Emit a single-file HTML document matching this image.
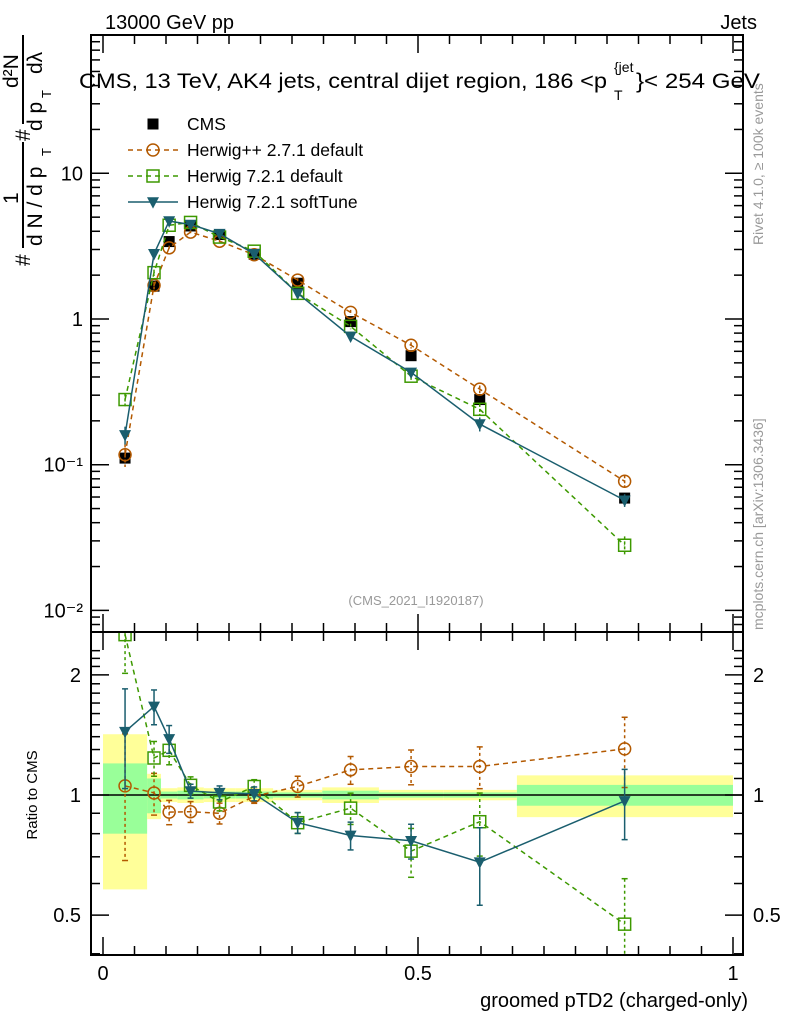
<!DOCTYPE html>
<html><head><meta charset="utf-8">
<style>
html,body{margin:0;padding:0;background:#fff;}
svg{display:block;font-family:"Liberation Sans",sans-serif;}
</style></head>
<body>
<svg id="c" width="786" height="1024" viewBox="0 0 786 1024" xmlns="http://www.w3.org/2000/svg">
<defs>
<clipPath id="cm"><rect x="91" y="35" width="652" height="597"/></clipPath>
<clipPath id="cr"><rect x="91" y="632" width="652" height="323"/></clipPath>
</defs>
<g id="bands"></g>
<g id="marks"></g>
<g id="axes"></g>
<text x="105" y="29" font-size="20">13000 GeV pp</text>
<text x="757" y="29" font-size="20" text-anchor="end">Jets</text>
<g>
<text x="79" y="88" font-size="21.5" textLength="528" lengthAdjust="spacingAndGlyphs">CMS, 13 TeV, AK4 jets, central dijet region, 186 &lt;p</text>
<text x="614" y="72" font-size="14">{jet</text>
<text x="614" y="100" font-size="14">T</text>
<text x="636" y="88" font-size="21.5" textLength="124" lengthAdjust="spacingAndGlyphs">}&lt; 254 GeV</text>
</g>
<text x="416" y="605" font-size="13" fill="#999" text-anchor="middle">(CMS_2021_I1920187)</text>
<text x="748" y="1007" font-size="20" text-anchor="end">groomed pTD2 (charged-only)</text>
<text transform="translate(37,795) rotate(-90)" font-size="15" text-anchor="middle">Ratio to CMS</text>
<text transform="translate(763,245) rotate(-90)" font-size="14" fill="#999">Rivet 4.1.0, ≥ 100k events</text>
<text transform="translate(763,630) rotate(-90)" font-size="14" fill="#999">mcplots.cern.ch [arXiv:1306.3436]</text>
<g font-size="21">
<line x1="23" y1="35" x2="23" y2="124" stroke="#000" stroke-width="2"/>
<line x1="23" y1="142" x2="23" y2="248" stroke="#000" stroke-width="2"/>
<text transform="translate(30,266) rotate(-90)">#</text>
<text transform="translate(30,141) rotate(-90)">#</text>
<text transform="translate(18,204) rotate(-90)">1</text>
<text transform="translate(42,246) rotate(-90)">d N / d p</text>
<text transform="translate(51,156) rotate(-90)" font-size="13">T</text>
<text transform="translate(42,131) rotate(-90)">d p</text>
<text transform="translate(51,98) rotate(-90)" font-size="13">T</text>
<text transform="translate(42,74) rotate(-90)">dλ</text>
<text transform="translate(18,88) rotate(-90)">d²N</text>
</g>
<g id="legend" font-size="17.5"></g>
</svg>
<script>
const xc=[0.035,0.081,0.105,0.139,0.185,0.24,0.309,0.393,0.489,0.598,0.828];
const edges=[0,0.07,0.092,0.118,0.16,0.21,0.27,0.348,0.438,0.54,0.657,1.0];
const cms=[0.111,1.68,3.4,4.35,3.8,2.78,1.76,0.96,0.56,0.28,0.059];
const hpp=[0.117,1.7,3.08,3.95,3.42,2.76,1.85,1.11,0.66,0.33,0.077];
const h721=[0.28,2.08,4.4,4.6,3.65,2.92,1.5,0.89,0.405,0.24,0.028];
const soft=[0.16,2.8,4.7,4.45,3.85,2.8,1.5,0.76,0.43,0.19,0.057];
const totErr=[0.42,0.13,0.04,0.045,0.04,0.04,0.03,0.045,0.03,0.03,0.12];
const statErr=[0.2,0.1,0.02,0.025,0.02,0.02,0.015,0.025,0.015,0.015,0.06];
const hppErr=[0.35,0.12,0.07,0.06,0.06,0.04,0.06,0.08,0.1,0.12,0.2];
const h721Err=[0.2,0.1,0.08,0.05,0.05,0.04,0.06,0.09,0.14,0.18,0.3];
const softErr=[0.28,0.1,0.08,0.04,0.04,0.04,0.06,0.08,0.1,0.22,0.2];
const yTicks=[0.01,0.1,1,10];
const yTickLbl=['10⁻²','10⁻¹','1','10'];
const rTicks=[0.5,1,2];
const xTicks=[0,0.5,1];

const NS='http://www.w3.org/2000/svg';
const L=91,R=743,T=35,M=632,B=955;
const X=v=>103+630*v;
const Y=v=>319-145.7*Math.log10(v);
const RY=v=>795-399*Math.log10(v);
function el(p,t,a){const e=document.createElementNS(NS,t);for(const k in a)e.setAttribute(k,a[k]);p.appendChild(e);return e;}
const bands=document.getElementById('bands'),marks=document.getElementById('marks'),axes=document.getElementById('axes');

for(let i=0;i<xc.length;i++){
 const x0=X(edges[i]),w=X(edges[i+1])-x0;
 const y=el(bands,'rect',{x:x0,y:RY(1+totErr[i]),width:w,height:RY(Math.max(1-totErr[i],0.05))-RY(1+totErr[i]),fill:'#ffff99'});
 
 
 const g=el(bands,'rect',{x:x0,y:RY(1+statErr[i]),width:w,height:RY(1-statErr[i])-RY(1+statErr[i]),fill:'#99ff99'});
 
 
}
el(bands,'line',{x1:L,y1:RY(1),x2:R,y2:RY(1),stroke:'#000','stroke-width':1.5});

const series=[
 {v:hpp,e:hppErr,c:'#b35900',dash:'5,4',m:'circle',name:'herwigpp-271-default'},
 {v:h721,e:h721Err,c:'#3d9900',dash:'5,4',m:'square',name:'herwig-721-default'},
 {v:soft,e:softErr,c:'#1a5e6e',dash:'',m:'tri',name:'herwig-721-softtune'}];
function marker(g,m,x,y,c,s){
 if(m==='circle')return el(g,'circle',{cx:x,cy:y,r:s,fill:'none',stroke:c,'stroke-width':1.5});
 if(m==='square')return el(g,'rect',{x:x-s,y:y-s,width:2*s,height:2*s,fill:'none',stroke:c,'stroke-width':1.5});
 if(m==='tri')return el(g,'polygon',{points:`${x-s},${y-s*0.8} ${x+s},${y-s*0.8} ${x},${y+s*1.1}`,fill:c});
 return el(g,'rect',{x:x-s,y:y-s,width:2*s,height:2*s,fill:c});
}
const gc=el(marks,'g',{'clip-path':'url(#cm)'});


cms.forEach((v,i)=>{const p=marker(gc,'sq',X(xc[i]),Y(v),'#000',5.5);
 
 });
series.forEach(s=>{
 const gm=el(marks,'g',{'clip-path':'url(#cm)'});
 
 
 const gr=el(marks,'g',{'clip-path':'url(#cr)'});
 
 
 const ptsM=s.v.map((v,i)=>X(xc[i])+','+Y(v)).join(' ');
 const ptsR=s.v.map((v,i)=>X(xc[i])+','+RY(v/cms[i])).join(' ');
 el(gm,'polyline',{points:ptsM,fill:'none',stroke:s.c,'stroke-width':1.5,'stroke-dasharray':s.dash});
 el(gr,'polyline',{points:ptsR,fill:'none',stroke:s.c,'stroke-width':1.5,'stroke-dasharray':s.dash});
 s.v.forEach((v,i)=>{
  const x=X(xc[i]),r=v/cms[i],e=s.e[i];
  const emain=e*0.5;
  el(gm,'line',{x1:x,y1:Y(v*(1+emain)),x2:x,y2:Y(Math.max(v*(1-emain),1e-4)),stroke:s.c,'stroke-width':1.5,'stroke-dasharray':s.dash?'3,2':''});
  el(gr,'line',{x1:x,y1:RY(r*(1+e)),x2:x,y2:RY(Math.max(r*(1-e),0.05)),stroke:s.c,'stroke-width':1.5,'stroke-dasharray':s.dash?'3,3':''});
  [RY(r*(1+e)),RY(Math.max(r*(1-e),0.05))].forEach(yy=>el(gr,'line',{x1:x-3,y1:yy,x2:x+3,y2:yy,stroke:s.c,'stroke-width':1.5}));
  const pm=marker(gm,s.m,x,Y(v),s.c,6);
  
  
  const pr=marker(gr,s.m,x,RY(r),s.c,6);
  
  
 });
});

el(axes,'rect',{x:L,y:T,width:R-L,height:B-T,fill:'none',stroke:'#000','stroke-width':2});
el(axes,'line',{x1:L,y1:M,x2:R,y2:M,stroke:'#000','stroke-width':2});
for(let d=-3;d<=1;d++){for(let k=1;k<10;k++){const v=k*Math.pow(10,d);const y=Y(v);if(y<T||y>M)continue;
 const len=k===1?18:9;
 el(axes,'line',{x1:L,y1:y,x2:L+len,y2:y,stroke:'#000','stroke-width':1.5});
 el(axes,'line',{x1:R,y1:y,x2:R-len,y2:y,stroke:'#000','stroke-width':1.5});}}
yTicks.forEach((v,i)=>{const t=el(axes,'text',{x:L-8,y:Y(v)+7,'font-size':20,'text-anchor':'end'});t.textContent=yTickLbl[i];
 
 });
for(let i=4;i<=23;i++){const v=i/10;const y=RY(v);if(y<M||y>B)continue;
 const major=(i===5||i===10||i===20);const len=major?18:9;
 el(axes,'line',{x1:L,y1:y,x2:L+len,y2:y,stroke:'#000','stroke-width':1.5});
 el(axes,'line',{x1:R,y1:y,x2:R-len,y2:y,stroke:'#000','stroke-width':1.5});}
rTicks.forEach(v=>{['l','r'].forEach(side=>{const t=el(axes,'text',{x:side==='l'?L-10:R+10,y:RY(v)+7,'font-size':20,'text-anchor':side==='l'?'end':'start'});t.textContent=String(v);
 
 });});
for(let i=0;i<=20;i++){const v=i*0.05;const x=X(v);const len=(i%10===0)?18:9;
 [[T,1],[M,1],[M,-1],[B,-1]].forEach(([y0,dir])=>el(axes,'line',{x1:x,y1:y0,x2:x,y2:y0+dir*len,stroke:'#000','stroke-width':1.5}));}
xTicks.forEach(v=>{const t=el(axes,'text',{x:X(v),y:980,'font-size':20,'text-anchor':'middle'});t.textContent=String(v);
 
 });
const lg=document.getElementById('legend');
const entries=[{t:'CMS',m:'sq',c:'#000',dash:null},{t:'Herwig++ 2.7.1 default',m:'circle',c:'#b35900',dash:'5,4'},{t:'Herwig 7.2.1 default',m:'square',c:'#3d9900',dash:'5,4'},{t:'Herwig 7.2.1 softTune',m:'tri',c:'#1a5e6e',dash:''}];
entries.forEach((e,i)=>{const y=124+26*i;const g=el(lg,'g',{});
 
 
 if(e.dash!==null)el(g,'line',{x1:128,y1:y,x2:178,y2:y,stroke:e.c,'stroke-width':1.5,'stroke-dasharray':e.dash});
 marker(g,e.m,153,y,e.c,e.m==='sq'?5.5:6);
 const t=el(g,'text',{x:187,y:y+6});t.textContent=e.t;});
</script>
</body></html>
